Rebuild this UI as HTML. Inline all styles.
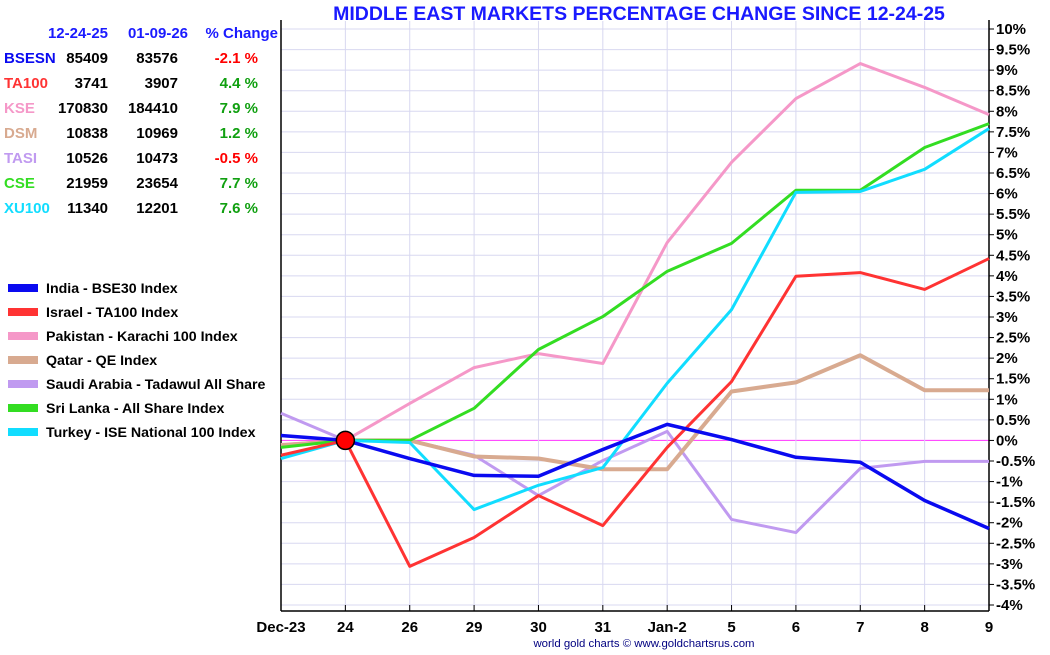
<!DOCTYPE html>
<html><head><meta charset="utf-8"><style>
html,body{margin:0;padding:0;background:#fff;}
body{width:1050px;height:650px;overflow:hidden;font-family:"Liberation Sans",sans-serif;}
svg text{font-family:"Liberation Sans",sans-serif;}
</style></head><body>
<svg id="chart" width="1050" height="650" xmlns="http://www.w3.org/2000/svg">
<text x="639" y="20" text-anchor="middle" font-size="19.5" font-weight="bold" fill="#1a1aff">MIDDLE EAST MARKETS PERCENTAGE CHANGE SINCE 12-24-25</text>
<g id="grid"></g>
<g id="axes"></g>
<g id="series"></g>
<g id="table"></g>
<g id="legend"></g>
<text x="644" y="647" text-anchor="middle" font-size="11.4" fill="#000080">world gold charts © www.goldchartsrus.com</text>
</svg>
<script>
const categories=["Dec-23","24","26","29","30","31","Jan-2","5","6","7","8","9"];
const yTicks=[10,9.5,9,8.5,8,7.5,7,6.5,6,5.5,5,4.5,4,3.5,3,2.5,2,1.5,1,0.5,0,-0.5,-1,-1.5,-2,-2.5,-3,-3.5,-4];
const seriesNames=["India - BSE30 Index","Israel - TA100 Index","Pakistan - Karachi 100 Index","Qatar - QE Index","Saudi Arabia - Tadawul All Share","Sri Lanka - All Share Index","Turkey - ISE National 100 Index"];
const seriesColors=["#0a0af0","#ff3333","#f598c8","#d8aa90","#c09af0","#33dd22","#11ddff"];
const bse=[0.12,0,-0.44,-0.85,-0.87,-0.22,0.39,0.02,-0.41,-0.53,-1.46,-2.14];
const ta100=[-0.36,0,-3.06,-2.36,-1.34,-2.07,-0.17,1.43,3.99,4.08,3.67,4.42];
const kse=[-0.1,0,0.9,1.77,2.11,1.87,4.81,6.76,8.31,9.16,8.58,7.92];
const dsm=[-0.12,0,0,-0.39,-0.44,-0.7,-0.7,1.19,1.41,2.07,1.22,1.22];
const tasi=[0.66,0,0,-0.36,-1.34,-0.49,0.22,-1.92,-2.24,-0.68,-0.51,-0.51];
const cse=[-0.17,0,0,0.78,2.21,3.01,4.11,4.79,6.08,6.08,7.12,7.7];
const xu100=[-0.44,0,-0.05,-1.68,-1.09,-0.66,1.39,3.18,6.03,6.05,6.59,7.58];
const tableCodes=["BSESN","TA100","KSE","DSM","TASI","CSE","XU100"];
const tableStart=["85409","3741","170830","10838","10526","21959","11340"];
const tableEnd=["83576","3907","184410","10969","10473","23654","12201"];
const tableChange=[-2.1,4.4,7.9,1.2,-0.5,7.7,7.6];

const NS="http://www.w3.org/2000/svg";
const X0=281,X1=989,YTOP=29,YBOT=605;
const x=i=>X0+i*(X1-X0)/(categories.length-1);
const y=v=>YTOP+(10-v)*(YBOT-YTOP)/14;
function mk(tag,attrs,parent){const e=document.createElementNS(NS,tag);for(const k in attrs)e.setAttribute(k,attrs[k]);parent.appendChild(e);return e;}
const grid=document.getElementById('grid'),axes=document.getElementById('axes'),ser=document.getElementById('series');
yTicks.forEach(v=>{
 const l=mk('line',{x1:X0,x2:X1,y1:y(v),y2:y(v),stroke:v===0?'#ff33ff':'#d8d8f0','stroke-width':1},grid);
 
 
 const t=mk('line',{x1:X1,x2:X1+5,y1:y(v),y2:y(v),stroke:'#000'},axes);
 
 
 const tx=mk('text',{x:X1+7,y:y(v)+5,'font-size':15,'font-weight':'bold',fill:'#000'},axes);
 
 
 tx.textContent=v+'%';
});
categories.forEach((c,i)=>{
 const l=mk('line',{x1:x(i),x2:x(i),y1:YTOP-8,y2:611,stroke:'#d8d8f0'},grid);
 
 
 const t=mk('line',{x1:x(i),x2:x(i),y1:605,y2:611,stroke:'#000'},axes);
 
 
 const tx=mk('text',{x:x(i),y:632,'text-anchor':'middle','font-size':15,'font-weight':'bold',fill:'#000'},axes);
 
 
 tx.textContent=c;
});
const ax1=mk('line',{x1:X0,x2:X1,y1:611,y2:611,stroke:'#000','stroke-width':1.5},axes);


const ax2=mk('line',{x1:X1,x2:X1,y1:20,y2:611,stroke:'#000','stroke-width':1.5},axes);


const ax3=mk('line',{x1:X0,x2:X0,y1:20,y2:611,stroke:'#000','stroke-width':1.5},axes);



const allSeries=[bse,ta100,kse,dsm,tasi,cse,xu100];
const widths=[3.5,3,3,4,3,3,3];
const order=[4,2,3,5,6,1,0];
const keys=["bse","ta100","kse","dsm","tasi","cse","xu100"];
order.forEach(s=>{
 const p=mk('polyline',{points:allSeries[s].map((v,i)=>x(i)+','+y(v)).join(' '),fill:'none',stroke:seriesColors[s],'stroke-width':widths[s],'stroke-linejoin':'round'},ser);
 
 
});
const dot=mk('circle',{cx:x(1),cy:y(0),r:9,fill:'#ff0000',stroke:'#000','stroke-width':1.5},ser);



const tb=document.getElementById('table');
[["12-24-25",108],["01-09-26",188],["% Change",278]].forEach(h=>{
 const t=mk('text',{x:h[1],y:38,'text-anchor':'end','font-size':15,'font-weight':'bold',fill:'#1a1aff'},tb);
 
 
 t.textContent=h[0];
});
tableCodes.forEach((c,i)=>{
 const yy=63+i*25;
 const a=mk('text',{x:4,y:yy,'font-size':15,'font-weight':'bold',fill:seriesColors[i]},tb);
 
 
 a.textContent=c;
 const b=mk('text',{x:108,y:yy,'text-anchor':'end','font-size':15,'font-weight':'bold',fill:'#000'},tb);
 
 
 b.textContent=tableStart[i];
 const d=mk('text',{x:178,y:yy,'text-anchor':'end','font-size':15,'font-weight':'bold',fill:'#000'},tb);
 
 
 d.textContent=tableEnd[i];
 const e=mk('text',{x:258,y:yy,'text-anchor':'end','font-size':15,'font-weight':'bold',fill:tableChange[i]<0?'#ff0000':'#11a011'},tb);
 
 
 e.textContent=tableChange[i].toFixed(1)+' %';
});
const lg=document.getElementById('legend');
seriesNames.forEach((n,i)=>{
 const yy=288+i*24;
 const r=mk('rect',{x:8,y:yy-4,width:30,height:8,fill:seriesColors[i]},lg);
 
 
 const t=mk('text',{x:46,y:yy+5,'font-size':14.2,'font-weight':'bold',fill:'#000'},lg);
 
 
 t.textContent=n;
});
</script>
</body></html>
